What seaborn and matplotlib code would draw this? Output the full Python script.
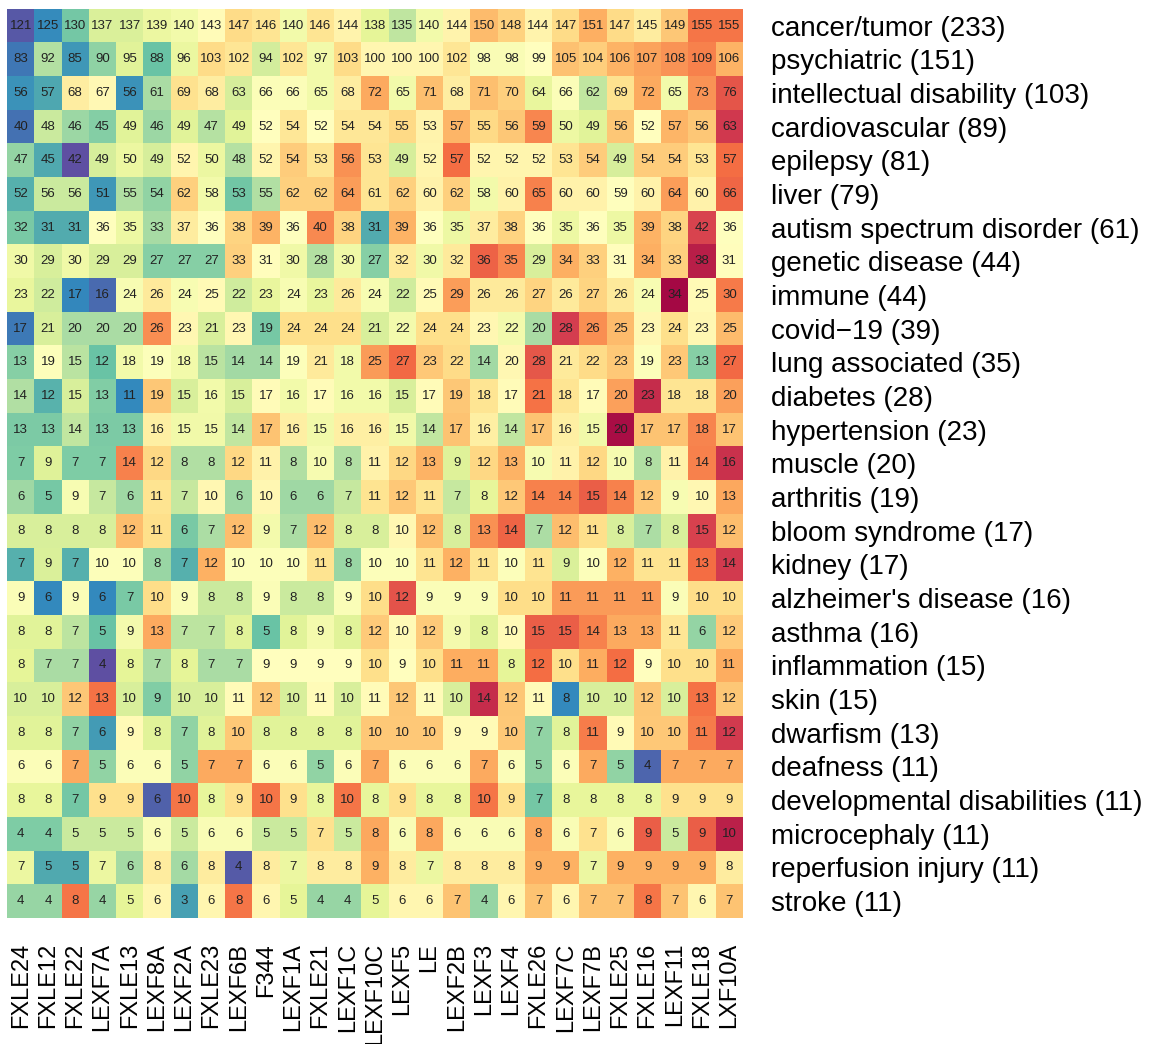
import numpy as np
import pandas as pd
import matplotlib
matplotlib.use('Agg')
import matplotlib.pyplot as plt
import seaborn as sns

# strains (columns) and disease categories (rows)
strains = ["FXLE24", "FXLE12", "FXLE22", "LEXF7A", "FXLE13", "LEXF8A", "LEXF2A",
           "FXLE23", "LEXF6B", "F344", "LEXF1A", "FXLE21", "LEXF1C", "LEXF10C",
           "LEXF5", "LE", "LEXF2B", "LEXF3", "LEXF4", "FXLE26", "LEXF7C", "LEXF7B",
           "FXLE25", "FXLE16", "LEXF11", "FXLE18", "LXF10A"]

diseases = ["cancer/tumor (233)", "psychiatric (151)", "intellectual disability (103)",
            "cardiovascular (89)", "epilepsy (81)", "liver (79)",
            "autism spectrum disorder (61)", "genetic disease (44)", "immune (44)",
            "covid\u221219 (39)", "lung associated (35)", "diabetes (28)",
            "hypertension (23)", "muscle (20)", "arthritis (19)", "bloom syndrome (17)",
            "kidney (17)", "alzheimer's disease (16)", "asthma (16)", "inflammation (15)",
            "skin (15)", "dwarfism (13)", "deafness (11)", "developmental disabilities (11)",
            "microcephaly (11)", "reperfusion injury (11)", "stroke (11)"]

cancer = [121, 125, 130, 137, 137, 139, 140, 143, 147, 146, 140, 146, 144, 138, 135, 140, 144, 150, 148, 144, 147, 151, 147, 145, 149, 155, 155]
psychiatric = [83, 92, 85, 90, 95, 88, 96, 103, 102, 94, 102, 97, 103, 100, 100, 100, 102, 98, 98, 99, 105, 104, 106, 107, 108, 109, 106]
intellectual = [56, 57, 68, 67, 56, 61, 69, 68, 63, 66, 66, 65, 68, 72, 65, 71, 68, 71, 70, 64, 66, 62, 69, 72, 65, 73, 76]
cardiovascular = [40, 48, 46, 45, 49, 46, 49, 47, 49, 52, 54, 52, 54, 54, 55, 53, 57, 55, 56, 59, 50, 49, 56, 52, 57, 56, 63]
epilepsy = [47, 45, 42, 49, 50, 49, 52, 50, 48, 52, 54, 53, 56, 53, 49, 52, 57, 52, 52, 52, 53, 54, 49, 54, 54, 53, 57]
liver = [52, 56, 56, 51, 55, 54, 62, 58, 53, 55, 62, 62, 64, 61, 62, 60, 62, 58, 60, 65, 60, 60, 59, 60, 64, 60, 66]
autism = [32, 31, 31, 36, 35, 33, 37, 36, 38, 39, 36, 40, 38, 31, 39, 36, 35, 37, 38, 36, 35, 36, 35, 39, 38, 42, 36]
genetic = [30, 29, 30, 29, 29, 27, 27, 27, 33, 31, 30, 28, 30, 27, 32, 30, 32, 36, 35, 29, 34, 33, 31, 34, 33, 38, 31]
immune = [23, 22, 17, 16, 24, 26, 24, 25, 22, 23, 24, 23, 26, 24, 22, 25, 29, 26, 26, 27, 26, 27, 26, 24, 34, 25, 30]
covid = [17, 21, 20, 20, 20, 26, 23, 21, 23, 19, 24, 24, 24, 21, 22, 24, 24, 23, 22, 20, 28, 26, 25, 23, 24, 23, 25]
lung = [13, 19, 15, 12, 18, 19, 18, 15, 14, 14, 19, 21, 18, 25, 27, 23, 22, 14, 20, 28, 21, 22, 23, 19, 23, 13, 27]
diabetes = [14, 12, 15, 13, 11, 19, 15, 16, 15, 17, 16, 17, 16, 16, 15, 17, 19, 18, 17, 21, 18, 17, 20, 23, 18, 18, 20]
hypertension = [13, 13, 14, 13, 13, 16, 15, 15, 14, 17, 16, 15, 16, 16, 15, 14, 17, 16, 14, 17, 16, 15, 20, 17, 17, 18, 17]
muscle = [7, 9, 7, 7, 14, 12, 8, 8, 12, 11, 8, 10, 8, 11, 12, 13, 9, 12, 13, 10, 11, 12, 10, 8, 11, 14, 16]
arthritis = [6, 5, 9, 7, 6, 11, 7, 10, 6, 10, 6, 6, 7, 11, 12, 11, 7, 8, 12, 14, 14, 15, 14, 12, 9, 10, 13]
bloom = [8, 8, 8, 8, 12, 11, 6, 7, 12, 9, 7, 12, 8, 8, 10, 12, 8, 13, 14, 7, 12, 11, 8, 7, 8, 15, 12]
kidney = [7, 9, 7, 10, 10, 8, 7, 12, 10, 10, 10, 11, 8, 10, 10, 11, 12, 11, 10, 11, 9, 10, 12, 11, 11, 13, 14]
alzheimer = [9, 6, 9, 6, 7, 10, 9, 8, 8, 9, 8, 8, 9, 10, 12, 9, 9, 9, 10, 10, 11, 11, 11, 11, 9, 10, 10]
asthma = [8, 8, 7, 5, 9, 13, 7, 7, 8, 5, 8, 9, 8, 12, 10, 12, 9, 8, 10, 15, 15, 14, 13, 13, 11, 6, 12]
inflammation = [8, 7, 7, 4, 8, 7, 8, 7, 7, 9, 9, 9, 9, 10, 9, 10, 11, 11, 8, 12, 10, 11, 12, 9, 10, 10, 11]
skin = [10, 10, 12, 13, 10, 9, 10, 10, 11, 12, 10, 11, 10, 11, 12, 11, 10, 14, 12, 11, 8, 10, 10, 12, 10, 13, 12]
dwarfism = [8, 8, 7, 6, 9, 8, 7, 8, 10, 8, 8, 8, 8, 10, 10, 10, 9, 9, 10, 7, 8, 11, 9, 10, 10, 11, 12]
deafness = [6, 6, 7, 5, 6, 6, 5, 7, 7, 6, 6, 5, 6, 7, 6, 6, 6, 7, 6, 5, 6, 7, 5, 4, 7, 7, 7]
developmental = [8, 8, 7, 9, 9, 6, 10, 8, 9, 10, 9, 8, 10, 8, 9, 8, 8, 10, 9, 7, 8, 8, 8, 8, 9, 9, 9]
microcephaly = [4, 4, 5, 5, 5, 6, 5, 6, 6, 5, 5, 7, 5, 8, 6, 8, 6, 6, 6, 8, 6, 7, 6, 9, 5, 9, 10]
reperfusion = [7, 5, 5, 7, 6, 8, 6, 8, 4, 8, 7, 8, 8, 9, 8, 7, 8, 8, 8, 9, 9, 7, 9, 9, 9, 9, 8]
stroke = [4, 4, 8, 4, 5, 6, 3, 6, 8, 6, 5, 4, 4, 5, 6, 6, 7, 4, 6, 7, 6, 7, 7, 8, 7, 6, 7]

rows = [cancer, psychiatric, intellectual, cardiovascular, epilepsy, liver, autism,
        genetic, immune, covid, lung, diabetes, hypertension, muscle, arthritis, bloom,
        kidney, alzheimer, asthma, inflammation, skin, dwarfism, deafness,
        developmental, microcephaly, reperfusion, stroke]

counts = pd.DataFrame(rows, index=diseases, columns=strains)

# row-wise z-score (colour), raw counts (annotation)
z = counts.sub(counts.mean(axis=1), axis=0).div(counts.std(axis=1, ddof=1), axis=0)
lim = np.abs(z.values).max()

plt.rcParams['font.family'] = ['Liberation Sans', 'DejaVu Sans']

fig = plt.figure(figsize=(11.51, 10.44), dpi=100)
ax = fig.add_axes([0.0061, 0.1207, 0.6394, 0.871])

sns.heatmap(z, ax=ax, cmap="Spectral_r", vmin=-lim, vmax=lim, cbar=False,
            annot=counts.values, fmt="d", annot_kws={"fontsize": 9.5, "color": "#222222"},
            xticklabels=True, yticklabels=True)

ax.yaxis.tick_right()
ax.tick_params(axis='y', length=0, pad=20, labelsize=20, labelrotation=0)
ax.tick_params(axis='x', length=0, pad=18, labelsize=17, labelrotation=90)
for lbl in ax.get_yticklabels():
    lbl.set_ha('left')

fig.savefig("out.png", dpi=100)
